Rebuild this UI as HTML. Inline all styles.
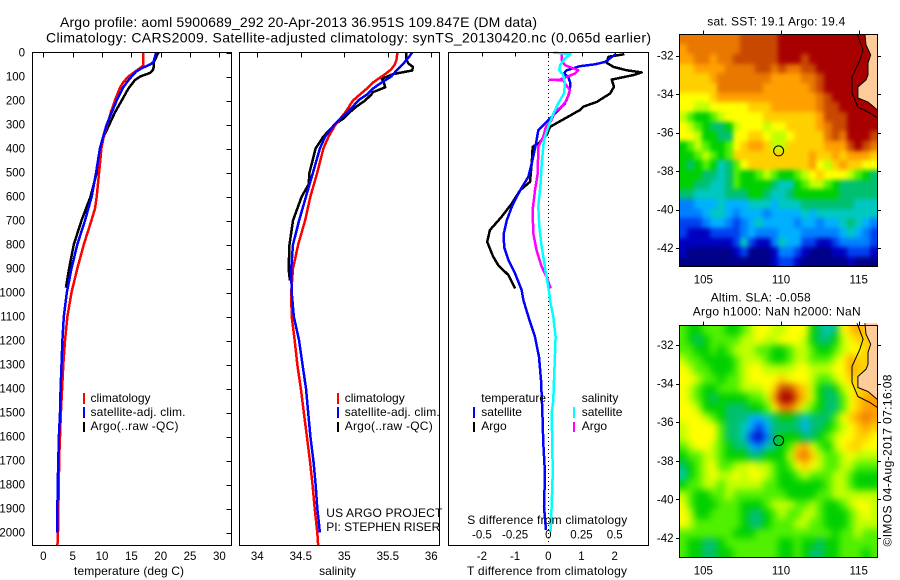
<!DOCTYPE html>
<html lang="en">
<head>
<meta charset="utf-8">
<title>Argo profile 5900689_292</title>
<style>
  html, body { margin: 0; padding: 0; background: #fff; }
  svg { display: block; font-family: "Liberation Sans", sans-serif; fill: #000; }
  text { font-size: 12px; fill: #000; }
  .tick { font-size: 11.5px; }
  .title { font-size: 14px; }
  .frame { fill: none; stroke: #000; stroke-width: 1; shape-rendering: crispEdges; }
</style>
</head>
<body>
<svg id="chart" width="900" height="580" viewBox="0 0 900 580" xmlns="http://www.w3.org/2000/svg">
  <defs>
    <filter id="sstSoften" x="-10%" y="-10%" width="120%" height="120%" color-interpolation-filters="sRGB">
      <feGaussianBlur stdDeviation="2.4"/>
      <feComponentTransfer><feFuncA type="linear" slope="60" intercept="0"/></feComponentTransfer>
    </filter>
    <filter id="slaSoften" x="-10%" y="-10%" width="120%" height="120%" color-interpolation-filters="sRGB">
      <feGaussianBlur stdDeviation="3.6"/>
      <feComponentTransfer><feFuncA type="linear" slope="60" intercept="0"/></feComponentTransfer>
    </filter>
    <clipPath id="sstClip"><rect x="679.5" y="34.5" width="198" height="232"/></clipPath>
    <clipPath id="slaClip"><rect x="679.5" y="325.5" width="198" height="232"/></clipPath>
  </defs>
  <g id="maps"></g>
  <g id="plots"></g>

  <text class="title" x="60" y="27" textLength="477" lengthAdjust="spacing">Argo profile: aoml 5900689_292 20-Apr-2013 36.951S 109.847E (DM data)</text>
  <text class="title" x="46" y="42.5" textLength="605" lengthAdjust="spacing">Climatology: CARS2009. Satellite-adjusted climatology: synTS_20130420.nc (0.065d earlier)</text>

  <rect class="frame" x="32.5" y="52.5" width="199" height="493"/>
  <rect class="frame" x="239.5" y="52.5" width="200" height="493"/>
  <rect class="frame" x="448.5" y="52.5" width="200" height="493"/>
  <rect class="frame" x="679.5" y="34.5" width="198" height="232"/>
  <rect class="frame" x="679.5" y="325.5" width="198" height="232"/>

  <text x="129" y="575" text-anchor="middle" textLength="110" lengthAdjust="spacing">temperature (deg C)</text>
  <text x="337.5" y="575" text-anchor="middle">salinity</text>
  <text x="467" y="575" textLength="160" lengthAdjust="spacing">T difference from climatology</text>
  <text x="467.3" y="524" textLength="160" lengthAdjust="spacing">S difference from climatology</text>

  <g>
    <rect x="83" y="393" width="2" height="11" fill="#f00"/>
    <rect x="83" y="407" width="2" height="11" fill="#00f"/>
    <rect x="83" y="422" width="2" height="10" fill="#000"/>
    <text x="90.5" y="402">climatology</text>
    <text x="90.5" y="416" textLength="95" lengthAdjust="spacing">satellite-adj. clim.</text>
    <text x="90.5" y="430" textLength="88" lengthAdjust="spacing">Argo(..raw -QC)</text>
  </g>
  <g>
    <rect x="337" y="393" width="2" height="11" fill="#f00"/>
    <rect x="337" y="407" width="2" height="11" fill="#00f"/>
    <rect x="337" y="422" width="2" height="10" fill="#000"/>
    <text x="344.7" y="402">climatology</text>
    <text x="344.7" y="416" textLength="95" lengthAdjust="spacing">satellite-adj. clim.</text>
    <text x="344.7" y="430" textLength="88" lengthAdjust="spacing">Argo(..raw -QC)</text>
  </g>
  <g>
    <text x="481.3" y="402">temperature</text>
    <rect x="473" y="407" width="2" height="11" fill="#00f"/>
    <rect x="473" y="422" width="2" height="10" fill="#000"/>
    <text x="481.3" y="416">satellite</text>
    <text x="481.3" y="430">Argo</text>
    <text x="581.7" y="402">salinity</text>
    <rect x="573" y="407" width="2" height="11" fill="#00ffff"/>
    <rect x="573" y="422" width="2" height="10" fill="#ff00ff"/>
    <text x="581.7" y="416">satellite</text>
    <text x="581.7" y="430">Argo</text>
  </g>

  <text x="326.3" y="517" textLength="116" lengthAdjust="spacing">US ARGO PROJECT</text>
  <text x="326.3" y="531" textLength="114" lengthAdjust="spacing">PI: STEPHEN RISER</text>

  <text x="707.3" y="25.5" textLength="138" lengthAdjust="spacing">sat. SST: 19.1  Argo: 19.4</text>
  <text x="710.7" y="301.5" textLength="100" lengthAdjust="spacing">Altim. SLA: -0.058</text>
  <text x="692.7" y="315.5" textLength="168" lengthAdjust="spacing">Argo h1000: NaN h2000: NaN</text>
  <text transform="translate(891.5,546.5) rotate(-90)" textLength="172" lengthAdjust="spacing">©IMOS 04-Aug-2017 07:16:08</text>
</svg>

<script>
// ---------- axis tick values ----------
const depthTicks = [0,100,200,300,400,500,600,700,800,900,1000,1100,1200,1300,1400,1500,1600,1700,1800,1900,2000];
const tempTicks = [0,5,10,15,20,25,30];
const salTicks = [34,34.5,35,35.5,36];
const tDiffTicks = [-2,-1,0,1,2];
const sDiffTicks = [-0.5,-0.25,0,0.25,0.5];
const sDiffTickLabels = ["-0.5","-0.25","0","0.25","0.5"];
const lonTicks = [105,110,115];
const latTicks = [-32,-34,-36,-38,-40,-42];

// ---------- temperature profiles ----------
const tempClimDepth = [0,55,70,100,125,150,200,250,300,350,400,500,600,650,700,800,900,1000,1100,1200,1300,1400,1500,1600,1700,1800,1900,2000,2055];
const tempClimValue = [17.0,17.0,16.2,14.5,13.6,13.0,12.2,11.5,10.9,10.3,9.9,9.5,9.1,8.8,8.2,6.9,5.8,4.8,4.1,3.7,3.4,3.2,3.0,2.85,2.7,2.65,2.55,2.5,2.4];
const tempSatDepth = [0,20,40,50,65,80,100,125,150,200,250,300,350,400,500,600,700,800,900,1000,1100,1200,1300,1400,1500,1600,1700,1800,1900,2000];
const tempSatValue = [19.2,19.0,18.75,18.2,16.8,15.8,15.05,14.2,13.5,12.5,11.65,10.8,10.2,9.65,9.0,8.25,7.1,5.8,4.8,4.0,3.5,3.25,3.1,2.95,2.85,2.65,2.55,2.45,2.4,2.4];
const tempArgoDepth = [0,10,40,70,85,100,115,150,200,250,300,350,400,500,600,700,800,900,980];
const tempArgoValue = [19.65,19.4,18.85,18.75,18.2,16.5,15.6,14.5,13.35,12.2,11.25,10.3,9.75,9.1,8.05,6.5,5.2,4.4,3.85];

// ---------- salinity profiles ----------
const salClimDepth = [0,30,50,70,90,125,150,200,250,300,350,400,500,600,700,800,900,1000,1100,1200,1300,1400,1500,1600,1700,1800,1900,2000,2055];
const salClimValue = [35.61,35.6,35.58,35.54,35.47,35.33,35.26,35.1,35.01,34.9,34.82,34.76,34.69,34.61,34.55,34.47,34.41,34.39,34.395,34.43,34.46,34.5,34.535,34.57,34.605,34.635,34.66,34.69,34.7];
const salSatDepth = [0,20,50,75,100,125,150,175,200,225,250,300,350,400,500,600,700,800,900,1000,1100,1200,1300,1400,1500,1600,1700,1800,1900,2000];
const salSatValue = [35.78,35.74,35.67,35.6,35.54,35.43,35.33,35.26,35.16,35.1,35.03,34.885,34.78,34.72,34.64,34.56,34.48,34.41,34.39,34.395,34.42,34.48,34.52,34.56,34.585,34.61,34.645,34.67,34.69,34.72];
const salArgoDepth = [0,25,45,60,75,90,110,120,145,165,175,200,225,250,275,300,350,400,500,550,600,700,800,900,950];
const salArgoValue = [35.71,35.71,35.735,35.79,35.78,35.56,35.43,35.45,35.47,35.33,35.31,35.24,35.14,35.06,34.99,34.89,34.76,34.67,34.6,34.59,34.51,34.41,34.37,34.36,34.375];

// ---------- difference profiles ----------
const dTSatDepth = [7,39,49,57,74,88,101,129,171,212,254,289,324,379,463,518,574,643,699,754,810,865,921,990,1032,1101,1185,1268,1365,1490,1629,1754,1893,1990];
const dTSatValue = [2.03,1.71,1.41,0.95,0.55,0.47,0.6,0.67,0.63,0.5,0.2,-0.05,-0.3,-0.37,-0.5,-0.6,-0.85,-1.1,-1.25,-1.34,-1.33,-1.2,-1.0,-0.8,-0.75,-0.6,-0.4,-0.28,-0.22,-0.18,-0.15,-0.1,-0.13,-0.07];
const dTArgoDepth = [7,18,43,60,74,83,94,113,143,171,206,226,240,275,310,344,379,393,463,539,574,629,685,740,789,851,886,928,983];
const dTArgoValue = [2.29,1.81,1.76,1.96,2.36,2.81,2.56,1.91,1.98,1.86,1.46,1.05,0.95,0.5,0.05,-0.05,-0.3,-0.47,-0.5,-0.55,-0.85,-1.1,-1.41,-1.76,-1.84,-1.66,-1.51,-1.2,-1.0];
const dSSatDepth = [0,7,25,53,74,94,129,171,212,254,310,365,463,546,643,726,810,921,1004,1032,1101,1185,1268,1365,1449,1504,1629,1754,1893,1996];
const dSSatValue = [0.038,0.168,0.126,0.088,0.083,0.113,0.126,0.118,0.075,0.038,0,-0.033,-0.05,-0.058,-0.075,-0.068,-0.05,-0.018,0.008,0.013,0.038,0.055,0.05,0.043,0.038,0.025,0.03,0.033,0.025,0.018];
const dSArgoDepth = [7,32,53,74,88,113,114,115,129,157,199,226,247,282,310,351,393,504,574,657,754,824,893,935,983];
const dSArgoValue = [0.1,0.1,0.126,0.226,0.2,0.088,0.008,0.113,0.126,0.163,0.138,0.1,0.05,0.025,-0.018,-0.038,-0.075,-0.08,-0.1,-0.118,-0.113,-0.088,-0.05,-0.013,0.018];

// ---------- map values (colour-scale level per half-degree cell) ----------
const sstLevels = [
[13,13,13,13,13,13,13,13,14,14,14,14,14,15,15,15,15,15,15,15,15,15,15,15,15,15],
[12,13,13,13,13,13,13,13,14,14,14,14,14,15,15,15,15,15,15,15,15,15,15,15,15,15],
[12,12,13,13,12,13,13,14,14,14,14,14,14,15,15,15,14,15,15,15,15,15,15,15,15,15],
[11,11,12,12,12,12,13,13,13,13,14,14,13,14,13,13,14,14,15,15,15,15,15,15,15,15],
[11,11,11,11,12,13,13,13,13,13,13,13,12,12,12,12,13,13,14,15,15,15,15,15,15,15],
[11,11,11,11,11,13,13,13,13,13,13,12,12,12,12,12,12,13,14,15,15,15,15,15,15,15],
[10,10,10,10,11,12,12,12,12,12,12,12,12,12,12,12,12,12,13,14,15,15,15,15,15,15],
[10,10,9,9,10,10,10,10,10,11,11,11,12,12,12,12,12,12,13,14,14,15,15,15,15,15],
[9,8,7,7,8,9,10,10,10,10,10,11,11,11,11,11,11,11,12,14,14,14,15,15,15,15],
[10,9,8,7,6,6,7,9,10,10,10,9,10,10,11,11,11,11,12,13,14,14,15,15,15,15],
[10,10,9,7,7,6,6,10,10,11,11,10,9,9,10,11,11,11,11,13,14,13,15,15,15,14],
[7,8,9,8,7,7,8,10,11,12,12,11,9,9,11,11,11,11,11,12,12,12,14,15,14,13],
[7,7,8,9,8,7,8,11,11,11,11,11,11,11,11,11,11,12,11,11,12,11,12,12,12,11],
[7,6,7,8,7,5,6,8,10,11,11,11,11,11,11,11,11,12,10,9,11,12,11,11,10,10],
[7,7,7,6,6,5,6,8,7,7,8,9,8,7,7,8,9,10,11,10,10,10,9,8,7,6],
[7,7,6,6,5,5,6,8,7,7,7,7,6,5,5,7,8,9,9,8,7,6,6,6,6,6],
[6,6,5,5,5,5,6,6,6,7,7,6,5,5,6,7,7,7,7,7,7,6,6,6,6,6],
[3,3,4,4,4,5,4,4,4,5,5,5,4,5,5,5,6,6,6,6,6,6,6,5,5,5],
[3,3,3,4,5,5,4,3,4,4,4,3,4,4,4,4,5,4,5,5,5,5,5,5,5,5],
[2,2,2,3,4,4,3,2,3,4,5,4,4,4,4,3,4,4,3,4,4,5,6,5,4,3],
[2,1,1,1,2,2,2,2,3,4,3,3,3,4,4,4,3,3,3,3,3,4,5,4,3,2],
[1,1,1,1,1,1,1,2,5,2,1,1,3,5,4,4,2,2,1,1,2,3,3,3,3,2],
[1,0,0,0,0,0,0,1,2,0,0,0,1,3,3,2,1,0,0,0,1,1,2,2,2,1],
[0,0,0,0,0,0,0,0,0,0,0,0,1,2,2,1,0,0,0,0,0,0,1,0,0,0]
];
const slaLevels = [
[8,7,7,8,8,8,7,7,8,9,10,10,9,9,10,10,10,7,6,5,6,10,11,12,11,11],
[8,7,6,7,8,8,8,8,9,9,10,9,9,10,10,10,9,7,6,6,7,9,10,11,11,11],
[8,8,7,7,8,7,8,9,9,9,8,8,7,7,8,9,9,8,7,7,8,9,10,10,11,11],
[9,8,8,7,7,7,7,8,9,9,9,8,7,7,8,9,9,8,8,8,9,10,12,11,11,11],
[10,9,8,8,7,7,7,8,9,10,10,9,9,9,9,10,10,9,9,9,10,10,12,11,11,11],
[10,10,9,8,8,7,8,8,9,10,10,10,10,11,10,10,10,9,8,8,9,10,11,11,11,11],
[10,9,8,7,7,8,8,8,9,9,9,10,11,14,14,12,11,9,7,6,7,9,10,11,11,11],
[10,9,8,7,6,7,7,7,7,8,8,9,12,15,15,13,11,9,7,6,6,8,10,11,12,12],
[10,10,9,7,7,7,6,6,6,7,7,8,10,13,13,11,9,8,7,6,6,8,10,11,12,12],
[10,10,10,9,8,7,6,6,6,4,4,5,6,7,7,6,5,6,6,6,8,10,11,12,13,12],
[9,10,10,10,10,8,6,6,5,4,2,4,6,6,6,6,4,6,6,7,8,9,10,11,12,11],
[9,10,10,10,10,8,6,6,5,2,1,3,6,7,7,7,6,6,7,8,9,10,10,11,11,10],
[8,9,10,10,9,8,7,6,6,4,3,5,6,7,8,11,12,10,8,7,9,10,11,11,10,10],
[7,8,8,9,9,8,7,7,7,6,6,7,7,7,9,12,13,11,9,8,8,9,10,9,9,9],
[6,7,8,9,10,8,8,9,9,10,9,9,8,7,8,10,11,10,9,8,8,9,9,8,8,8],
[5,7,8,9,10,9,9,10,9,10,10,9,8,7,7,8,9,8,8,8,9,9,8,7,7,7],
[7,8,8,9,9,8,9,9,9,9,9,8,8,7,7,7,7,7,7,8,9,9,8,7,7,7],
[9,8,7,7,8,8,9,8,8,8,8,8,8,8,7,7,7,7,8,8,9,9,9,9,9,9],
[10,8,7,7,7,8,8,8,7,7,7,8,9,9,9,8,8,9,8,7,7,8,9,10,10,9],
[10,9,7,7,8,8,8,8,7,6,6,7,8,9,8,8,9,9,8,7,7,7,8,9,10,9],
[10,9,8,8,8,8,8,8,7,6,6,7,8,8,8,9,9,8,8,7,7,7,8,9,9,9],
[8,8,8,8,8,8,8,7,7,7,8,8,8,8,8,8,8,8,8,8,7,8,8,9,8,8],
[8,7,7,6,6,7,8,8,8,8,8,8,8,7,7,8,7,7,6,7,7,8,8,8,8,8],
[8,7,7,6,6,7,7,8,8,8,8,8,8,7,7,8,7,6,6,7,7,8,8,8,7,8]
];

// ---------- geography (lon / lat in degrees) ----------
const coastLon = [115.4,115.47,115.77,115.6,115.6,115.47,114.95,114.95,115.6,116.2];
const coastLat = [-30.87,-31.44,-31.96,-32.38,-33.0,-33.26,-33.63,-34.2,-34.41,-34.82];
const contourLon = [114.89,115.28,115.08,114.57,114.57,114.95,115.73,116.2];
const contourLat = [-30.87,-31.7,-32.22,-33.11,-33.94,-34.67,-34.98,-35.24];
const floatLon = 109.847;
const floatLat = -36.951;

// ---------- colour scale ----------
const levelColors = ["#000088","#0000c0","#0040f0","#0080ff","#00b0ff","#00c8c0","#00c070","#00d000","#50f000","#c0ff00","#ffff00","#ffd000","#ffa000","#e87800","#c84800","#a80000"];
const landColor = "#ffcc99";

// ---------- axis functions ----------
const NS = "http://www.w3.org/2000/svg";
const yDepth = d => 52.5 + d * 0.24;
const xTemp = t => 43.3 + t * 5.87;
const xSal = s => 257.3 + (s - 34) * 87;
const xDT = v => 548.3 + v * 33.2;
const xDS = v => 548.3 + v * 132.8;
const lonMin = 103.45, lonMax = 116.2;
const xLon = lon => 703.3 + (lon - 105) * 15.54;
const ySst = lat => 55.7 + (-32 - lat) * 19.23;
const ySla = lat => 345 + (-32 - lat) * 19.3;

function mk(parent, tag, attrs, text) {
  const el = document.createElementNS(NS, tag);
  for (const k in attrs) el.setAttribute(k, attrs[k]);
  if (text !== undefined) el.textContent = text;
  parent.appendChild(el);
  return el;
}
const plots = document.getElementById("plots");
const maps = document.getElementById("maps");

function drawProfile(depths, values, xf, color, name) {
  const pts = depths.map((d, i) => xf(values[i]).toFixed(1) + "," + yDepth(d).toFixed(1)).join(" ");
  const el = mk(plots, "polyline", { points: pts, fill: "none", stroke: color, "stroke-width": 2.5, "shape-rendering": "crispEdges", "stroke-linejoin": "round" });
  
  
}

function drawTick(parent, x1, y1, x2, y2, name) {
  const el = mk(parent, "line", { x1: x1, y1: y1, x2: x2, y2: y2, stroke: "#000", "stroke-width": 1, "shape-rendering": "crispEdges" });
  
  
}

function drawLabel(parent, x, y, anchor, str, name) {
  const el = mk(parent, "text", { x: x, y: y, "text-anchor": anchor, class: "tick" }, str);
  
  
}

// depth axis
depthTicks.forEach(d => {
  drawLabel(plots, 25, yDepth(d) + 4, "end", String(d), "depth-tick-label");
  drawTick(plots, 226.5, Math.round(yDepth(d)) + 0.5, 231.5, Math.round(yDepth(d)) + 0.5, "depth-tick");
});
// x axes
tempTicks.forEach(t => {
  drawTick(plots, Math.round(xTemp(t)) + 0.5, 52.5, Math.round(xTemp(t)) + 0.5, 57.5, "temperature-tick");
  drawLabel(plots, xTemp(t), 560, "middle", String(t), "temperature-tick-label");
});
salTicks.forEach(s => {
  drawTick(plots, Math.round(xSal(s)) + 0.5, 52.5, Math.round(xSal(s)) + 0.5, 57.5, "salinity-tick");
  drawLabel(plots, xSal(s), 560, "middle", String(s), "salinity-tick-label");
});
tDiffTicks.forEach(v => {
  drawTick(plots, Math.round(xDT(v)) + 0.5, 52.5, Math.round(xDT(v)) + 0.5, 56.5, "t-difference-tick");
  drawLabel(plots, xDT(v), 560, "middle", String(v), "t-difference-tick-label");
});
sDiffTicks.forEach((v, i) => {
  drawLabel(plots, xDS(v), 538.5, "middle", sDiffTickLabels[i], "s-difference-tick-label");
});

// zero line
const zeroLine = mk(plots, "line", { x1: 548.5, y1: 53, x2: 548.5, y2: 545, stroke: "#000", "stroke-width": 1, "stroke-dasharray": "1 3", "shape-rendering": "crispEdges" });



// profiles
drawProfile(tempArgoDepth, tempArgoValue, xTemp, "#000", "temperature-argo-line");
drawProfile(tempClimDepth, tempClimValue, xTemp, "#f00", "temperature-climatology-line");
drawProfile(tempSatDepth, tempSatValue, xTemp, "#00f", "temperature-satellite-line");
drawProfile(salArgoDepth, salArgoValue, xSal, "#000", "salinity-argo-line");
drawProfile(salClimDepth, salClimValue, xSal, "#f00", "salinity-climatology-line");
drawProfile(salSatDepth, salSatValue, xSal, "#00f", "salinity-satellite-line");
drawProfile(dTArgoDepth, dTArgoValue, xDT, "#000", "t-difference-argo-line");
drawProfile(dTSatDepth, dTSatValue, xDT, "#00f", "t-difference-satellite-line");
drawProfile(dSArgoDepth, dSArgoValue, xDS, "#ff00ff", "s-difference-argo-line");
drawProfile(dSSatDepth, dSSatValue, xDS, "#00ffff", "s-difference-satellite-line");

// maps
function drawMap(levels, yLat, topPx, botPx, name, filterId, clipId) {
  const rows = levels.length, cols = levels[0].length;
  const left = xLon(lonMin), right = xLon(lonMax);
  const g = mk(maps, "g", {});
  
  
  const clipped = mk(g, "g", { "clip-path": "url(#" + clipId + ")" });
  
  
  const cells = mk(clipped, "g", { filter: "url(#" + filterId + ")" });
  
  
  for (let r = 0; r < rows; r++) {
    const y0 = Math.round(topPx + r * (botPx - topPx) / rows);
    const y1 = Math.round(topPx + (r + 1) * (botPx - topPx) / rows);
    for (let c = 0; c < cols; c++) {
      const x0 = Math.round(left + c * (right - left) / cols);
      const x1 = Math.round(left + (c + 1) * (right - left) / cols);
      const lv = Math.max(0, Math.min(levelColors.length - 1, Math.round(levels[r][c])));
      const cell = mk(cells, "rect", { x: x0, y: y0, width: x1 - x0, height: y1 - y0, fill: levelColors[lv], "shape-rendering": "crispEdges" });
      
      
    }
  }
  // land
  const coastPts = coastLon.map((lon, i) => xLon(lon).toFixed(1) + "," + yLat(coastLat[i]).toFixed(1));
  const land = mk(g, "polygon", { points: coastPts.join(" ") + " " + right.toFixed(1) + "," + yLat(coastLat[0]).toFixed(1), fill: landColor, stroke: "none" });
  
  
  const coast = mk(g, "polyline", { points: coastPts.join(" "), fill: "none", stroke: "#000", "stroke-width": 1 });
  
  
  const contourPts = contourLon.map((lon, i) => xLon(lon).toFixed(1) + "," + yLat(contourLat[i]).toFixed(1)).join(" ");
  const contour = mk(g, "polyline", { points: contourPts, fill: "none", stroke: "#000", "stroke-width": 1 });
  
  
  // float marker
  const marker = mk(g, "circle", { cx: xLon(floatLon), cy: yLat(floatLat), r: 5, fill: "none", stroke: "#000", "stroke-width": 1 });
  
  
  // ticks
  lonTicks.forEach(lon => {
    const x = Math.round(xLon(lon)) + 0.5;
    drawTick(g, x, topPx - 4, x, topPx, "longitude-tick");
    drawLabel(g, xLon(lon), botPx + 17, "middle", String(lon), "longitude-tick-label");
  });
  latTicks.forEach(lat => {
    const y = Math.round(yLat(lat)) + 0.5;
    drawTick(g, left - 3, y, left, y, "latitude-tick");
    drawTick(g, right, y, right + 3.5, y, "latitude-tick");
    drawLabel(g, 673.5, yLat(lat) + 4, "end", String(lat), "latitude-tick-label");
  });
}
drawMap(sstLevels, ySst, 34.5, 266.5, "sst-map", "sstSoften", "sstClip");
drawMap(slaLevels, ySla, 325.5, 557.5, "sla-map", "slaSoften", "slaClip");
</script>
</body>
</html>
